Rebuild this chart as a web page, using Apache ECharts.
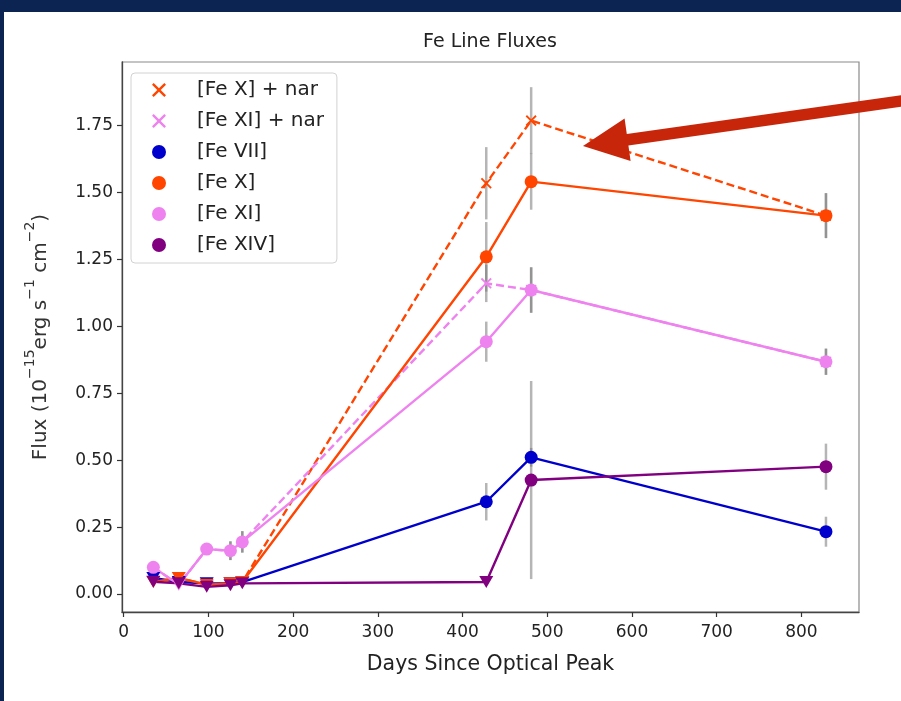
<!DOCTYPE html>
<html>
<head>
<meta charset="utf-8">
<title>Fe Line Fluxes</title>
<script src="https://cdn.jsdelivr.net/npm/echarts@6/dist/echarts.min.js"></script>
<style>
  html, body { margin: 0; padding: 0; width: 901px; height: 701px; background: #0b2452; overflow: hidden; }
  #sheet { position: absolute; left: 4px; top: 12px; width: 897px; height: 689px; background: #ffffff; }
  #chart { position: absolute; left: 0; top: 0; width: 901px; height: 701px; }
</style>
</head>
<body>
<div id="sheet"></div>
<div id="chart"></div>
<script>
// Epochs (days since optical peak)
const days = [35, 65, 98, 126, 140, 428, 481, 829];

// Line fluxes in 1e-15 erg/s/cm^2, with 1-sigma errors; limit flags mark upper limits
const feVII     = [0.060, 0.045, 0.040, 0.040, 0.045, 0.345, 0.511, 0.233];
const feVIIErr  = [0, 0, 0, 0, 0, 0.070, 0.035, 0.056];
const feVIILim  = [1, 1, 1, 1, 1, 0, 0, 0];

const feX       = [0.045, 0.060, 0.035, 0.040, 0.045, 1.260, 1.541, 1.414];
const feXErr    = [0, 0, 0, 0, 0, 0.130, 0.105, 0.084];
const feXLim    = [1, 1, 1, 1, 1, 0, 0, 0];

const feXNar    = [0.045, 0.060, 0.035, 0.040, 0.045, 1.535, 1.769, 1.414];
const feXNarErr = [0, 0, 0, 0, 0, 0.135, 0.125, 0.084];

const feXI      = [0.100, 0.035, 0.168, 0.162, 0.195, 0.943, 1.136, 0.868];
const feXIErr   = [0.020, 0, 0.020, 0.035, 0.040, 0.075, 0.085, 0.049];
const feXILim   = [0, 1, 0, 0, 0, 0, 0, 0];

const feXINar    = [0.100, 0.035, 0.168, 0.162, 0.195, 1.161, 1.136, 0.868];
const feXINarErr = [0.020, 0, 0.020, 0.035, 0.040, 0.070, 0.085, 0.049];

const feXIV     = [0.046, 0.040, 0.027, 0.033, 0.040, 0.045, 0.426, 0.476];
const feXIVErr  = [0, 0, 0, 0, 0, 0, 0.370, 0.086];
const feXIVLim  = [1, 1, 1, 1, 1, 1, 0, 0];

// narrow-component fits are only marked at the late epochs
const narMarked = [0, 0, 0, 0, 0, 1, 1, 1];

const xTicks = [0, 100, 200, 300, 400, 500, 600, 700, 800];
const yTicks = [0, 0.25, 0.5, 0.75, 1.0, 1.25, 1.5, 1.75];

const FONT = 'DejaVu Sans';
const TRI = 'path://M0,0L10,0L5,8.7Z';
const XMARK = 'path://M1.2,0L5,3.8L8.8,0L10,1.2L6.2,5L10,8.8L8.8,10L5,6.2L1.2,10L0,8.8L3.8,5L0,1.2Z';

const pairs = vals => days.map((d, i) => [d, vals[i]]);

function measured(name, color, vals, lims) {
  return {
    name, type: 'line', data: pairs(vals), color,
    lineStyle: { color, width: 2.4 },
    itemStyle: { color },
    showAllSymbol: true,
    symbol: (v, p) => lims[p.dataIndex] ? TRI : 'circle',
    symbolSize: (v, p) => lims[p.dataIndex] ? [14, 12] : 13,
    emphasis: { disabled: true },
    z: 3
  };
}

function narrow(name, color, vals) {
  return {
    name, type: 'line', data: pairs(vals), color,
    lineStyle: { color, width: 2.4, type: [8, 4] },
    itemStyle: { color },
    showAllSymbol: true,
    symbol: (v, p) => narMarked[p.dataIndex] ? XMARK : 'none',
    symbolSize: 11,
    emphasis: { disabled: true },
    z: 3
  };
}

// error bar segments, one per measurement
const errSets = [
  [feXNar, feXNarErr], [feXINar, feXINarErr], [feVII, feVIIErr],
  [feX, feXErr], [feXI, feXIErr], [feXIV, feXIVErr]
];
const errData = [];
errSets.forEach(([v, e]) => days.forEach((d, i) => { if (e[i] > 0) errData.push([d, v[i], e[i]]); }));

const chart = echarts.init(document.getElementById('chart'), null, { renderer: 'canvas' });
chart.setOption({
  animation: false,
  backgroundColor: 'transparent',
  textStyle: { fontFamily: FONT },
  title: {
    text: 'Fe Line Fluxes',
    left: 490, top: 33, textAlign: 'center', padding: 0,
    textStyle: { fontFamily: FONT, fontSize: 19, fontWeight: 'normal', color: '#222' }
  },
  grid: {
    left: 122, top: 62, width: 737, height: 550,
    show: true, borderColor: '#8a8a8a', borderWidth: 1.2, backgroundColor: 'transparent',
    containLabel: false, outerBoundsMode: 'none'
  },
  legend: {
    orient: 'vertical', left: 131, top: 73,
    padding: [7, 13, 8, 21],
    itemWidth: 14, itemHeight: 14, itemGap: 11,
    borderColor: '#d2d2d2', borderWidth: 1, borderRadius: 4,
    backgroundColor: 'rgba(255,255,255,0.85)',
    textStyle: { fontFamily: FONT, fontSize: 20, lineHeight: 16, color: '#222', padding: [0, 0, 0, 26] },
    data: [
      { name: '[Fe X] + nar', icon: XMARK },
      { name: '[Fe XI] + nar', icon: XMARK },
      { name: '[Fe VII]', icon: 'circle' },
      { name: '[Fe X]', icon: 'circle' },
      { name: '[Fe XI]', icon: 'circle' },
      { name: '[Fe XIV]', icon: 'circle' }
    ]
  },
  xAxis: {
    type: 'value', min: -2, max: 868,
    name: 'Days Since Optical Peak', nameLocation: 'middle', nameGap: 42,
    nameTextStyle: { fontFamily: FONT, fontSize: 20.5, color: '#222' },
    axisLine: { show: true, onZero: false, lineStyle: { color: '#444', width: 1.3 } },
    axisTick: { show: true, inside: false, length: 5, customValues: xTicks, lineStyle: { color: '#333', width: 1.2 } },
    axisLabel: { customValues: xTicks, fontFamily: FONT, fontSize: 17, color: '#222', margin: 12, formatter: v => String(v) },
    splitLine: { show: false }
  },
  yAxis: {
    type: 'value', min: -0.067, max: 1.988,
    name: '{n|Flux (10}{s|−15}{n|erg s}{s|−1}{n| cm}{s|−2}{n|)}',
    nameLocation: 'middle', nameGap: 71, nameRotate: 90,
    nameTextStyle: {
      fontFamily: FONT, color: '#333',
      rich: {
        n: { fontFamily: FONT, fontSize: 20, lineHeight: 28, verticalAlign: 'bottom', color: '#333' },
        s: { fontFamily: FONT, fontSize: 14, lineHeight: 16, verticalAlign: 'top', color: '#333' }
      }
    },
    axisLine: { show: true, onZero: false, lineStyle: { color: '#444', width: 1.3 } },
    axisTick: { show: true, inside: false, length: 5, customValues: yTicks, lineStyle: { color: '#333', width: 1.2 } },
    axisLabel: { customValues: yTicks, fontFamily: FONT, fontSize: 17, color: '#222', margin: 9, formatter: v => v.toFixed(2) },
    splitLine: { show: false }
  },
  series: [
    {
      name: 'errors', type: 'custom', data: errData, z: 2, silent: true,
      renderItem: (params, api) => {
        const x = api.value(0), y = api.value(1), e = api.value(2);
        const top = api.coord([x, y + e]);
        const bot = api.coord([x, y - e]);
        return {
          type: 'line',
          shape: { x1: top[0], y1: top[1], x2: bot[0], y2: bot[1] },
          style: { stroke: 'rgba(120,120,120,0.55)', lineWidth: 2.5 }
        };
      }
    },
    narrow('[Fe X] + nar', '#ff4500', feXNar),
    narrow('[Fe XI] + nar', '#ee82ee', feXINar),
    measured('[Fe VII]', '#0000cd', feVII, feVIILim),
    measured('[Fe X]', '#ff4500', feX, feXLim),
    measured('[Fe XI]', '#ee82ee', feXI, feXILim),
    measured('[Fe XIV]', '#800080', feXIV, feXIVLim)
  ],
  graphic: [
    {
      type: 'polygon', z: 100, silent: true,
      shape: { points: [[583, 146], [624.6, 118.4], [626.8, 134.0], [918.8, 92.7], [920.4, 104.1], [628.4, 145.4], [630.6, 161.0]] },
      style: { fill: '#c8260b' }
    }
  ]
});
</script>
</body>
</html>
